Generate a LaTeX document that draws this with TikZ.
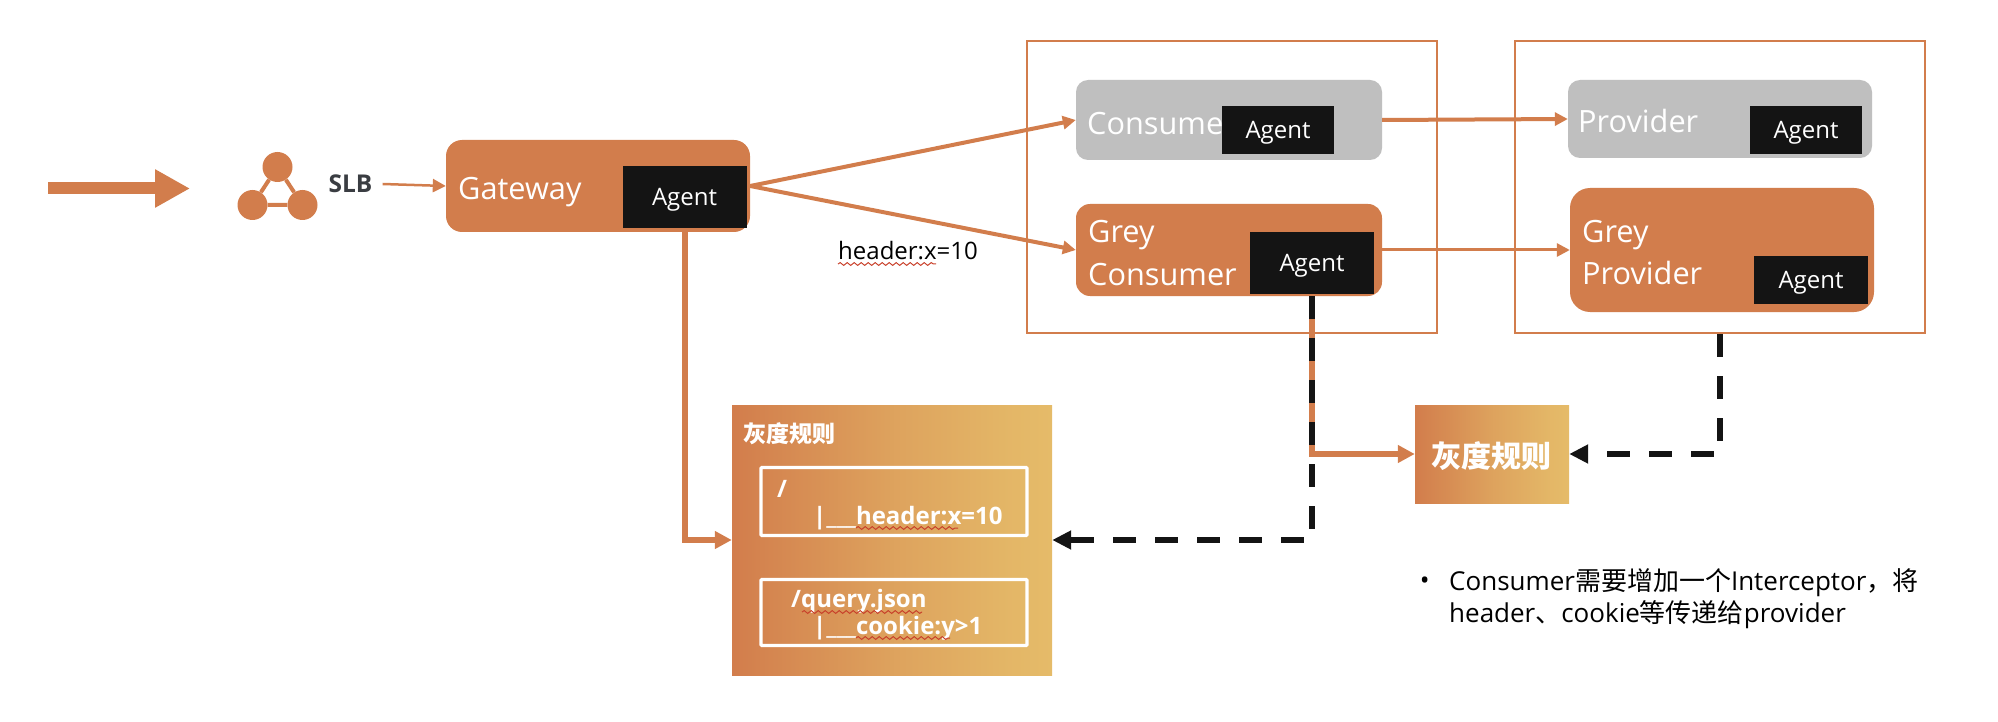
\documentclass[tikz,border=0pt]{standalone}
\usepackage{fontspec}
\usetikzlibrary{arrows.meta,decorations.pathmorphing}
\setmainfont{Open Sans}
\newfontfamily\cjk{Noto Sans CJK SC}
\definecolor{brand}{HTML}{D27D4C}
\definecolor{brandlight}{HTML}{E5BB69}
\definecolor{mute}{HTML}{BFBFBF}
\definecolor{ink}{HTML}{141414}
\definecolor{slbgrey}{HTML}{3A3D42}
\definecolor{squiggle}{HTML}{C8402A}
\newcommand{\fs}[1]{\fontsize{#1}{#1}\selectfont}
% warm ramp that settles into its light end before the right edge
\pgfdeclarehorizontalshading{warmramp}{100bp}{
  color(0bp)=(brand); color(25bp)=(brand); color(50bp)=(brand!40!brandlight);
  color(68bp)=(brandlight!92!brand); color(75bp)=(brandlight); color(100bp)=(brandlight)}
\tikzset{
  x=1pt, y=-1pt,
  rbox/.style={rounded corners=#1, inner sep=0pt, draw=none},
  orangebox/.style={rbox=#1, fill=brand},
  greybox/.style={rbox=#1, fill=mute},
  agentbox/.style={fill=ink, text=white, inner sep=0pt, font=\fs{24},
    text height=17pt, text depth=0pt},
  groupbox/.style={draw=brand, line width=2.2pt, inner sep=0pt, fill=white},
  lbl/.style={text=white, inner sep=0pt, font=\fs{30.7}, anchor=base west},
  rulebox/.style={shading=warmramp, inner sep=0pt},
  rowbox/.style={draw=white, line width=3.4pt, inner sep=0pt, rounded corners=1pt},
  ruletext/.style={text=white, inner sep=0pt, font=\bfseries\fs{24}, anchor=base west},
  plain/.style={text=black, inner sep=0pt, font=\fs{26}, anchor=base west},
  flow/.style={draw=brand, line width=#1},
  headS/.style={-{Triangle[length=13pt,width=13pt]}},
  headL/.style={-{Triangle[length=17pt,width=17pt]}},
  trace/.style={draw=ink, line width=6pt, dash pattern=on 23pt off 19pt,
    -{Triangle[length=19pt,width=18pt]}},
  wavy/.style={draw=squiggle, line width=1pt,
    decorate, decoration={snake, amplitude=1.4pt, segment length=7pt}},
}
\begin{document}
\begin{tikzpicture}
\useasboundingbox (0,0) rectangle (1998,722);

% incoming traffic
\coordinate (inA) at (48,188.5);
\coordinate (inB) at (190,188.5);
\draw[flow=12pt, -{Triangle[length=35pt,width=36pt]}] (inA) -- (inB);

% load balancer icon
\node[circle, fill=brand, minimum size=30pt, inner sep=0pt] (lbT) at (277.5,167) {};
\node[circle, fill=brand, minimum size=30pt, inner sep=0pt] (lbL) at (252.5,205) {};
\node[circle, fill=brand, minimum size=30pt, inner sep=0pt] (lbR) at (302.5,205) {};
\draw[flow=4pt] (lbT) -- (lbL) -- (lbR) -- (lbT);
\node[text=slbgrey, inner sep=0pt, font=\bfseries\fs{24.5}] (slb) at (350.5,184) {SLB};

% gateway
\node[orangebox=16pt, minimum width=304pt, minimum height=92pt] (gw) at (598,186) {};
\node[lbl] (gwT) at (458,199.5) {Gateway};
\node[agentbox, minimum width=124pt, minimum height=62pt] (gwA) at (684.5,197) {Agent};

% consumer group
\node[groupbox, minimum width=410pt, minimum height=292pt] (cgroup) at (1232,187) {};
\node[greybox=12pt, minimum width=306pt, minimum height=80pt] (con) at (1229,120) {};
\node[lbl] (conT) at (1087,134.5) {Consumer};
\node[agentbox, minimum width=112pt, minimum height=48pt] (conA) at (1278,130) {Agent};
\node[orangebox=14pt, minimum width=306pt, minimum height=92pt] (gcon) at (1229,250) {};
\node[lbl] (gconT) at (1088,242.5) {Grey};
\node[lbl] (gconU) at (1088,285.5) {Consumer};
\node[agentbox, minimum width=124pt, minimum height=62pt] (gconA) at (1312,263) {Agent};

% provider group
\node[groupbox, minimum width=410pt, minimum height=292pt] (pgroup) at (1720,187) {};
\node[greybox=12pt, minimum width=304pt, minimum height=78pt] (prov) at (1720,119) {};
\node[lbl] (provT) at (1578,132.5) {Provider};
\node[agentbox, minimum width=112pt, minimum height=48pt] (provA) at (1806,130) {Agent};
\node[orangebox=20pt, minimum width=304pt, minimum height=124pt] (gprov) at (1722,250) {};
\node[lbl] (gprovT) at (1582,242.5) {Grey};
\node[lbl] (gprovU) at (1582,284.5) {Provider};
\node[agentbox, minimum width=114pt, minimum height=48pt] (gprovA) at (1811,280) {Agent};

% rule panel
\node[rulebox, minimum width=320pt, minimum height=270pt] (rules) at (892,540) {};
\node[text=white, inner sep=0pt, font=\cjk\bfseries\fs{23}, anchor=west] (rulesT) at (743,434) {灰度规则};
\node[rowbox, minimum width=266pt, minimum height=68pt] (rowA) at (894,501.5) {};
\node[rowbox, minimum width=266pt, minimum height=66pt] (rowB) at (894,612.5) {};
\node[ruletext] (rowAa) at (777,497) {/};
\node[ruletext] (rowAb) at (813,524) {|\_\_\_header:x=10};
\node[ruletext] (rowBa) at (791,607) {/query.json};
\node[ruletext] (rowBb) at (813,634) {|\_\_\_cookie:y>1};
\draw[wavy] (856,528) -- (958,528);
\draw[wavy] (802,612) -- (922,612);
\draw[wavy] (856,638) -- (950,638);

% rule tag
\node[rulebox, minimum width=154pt, minimum height=98pt] (tag) at (1492,454) {};
\node[text=white, inner sep=0pt, font=\cjk\bfseries\fs{30}] (tagT) at (1491,456) {灰度规则};

% request flows
\draw[flow=2.5pt, headS] ([xshift=10pt]slb.east) -- (gw.west);
\draw[flow=4pt, headS] (gw.east) -- (con.west);
\draw[flow=4pt, headS] (gw.east) -- (gcon.west);
\draw[flow=4pt, headS] (con.east) -- (prov.west);
\draw[flow=3pt, headS] (gcon.east) -- (gprov.west);
\draw[flow=6pt, headL] (gwA.south) |- (rules.west);
\draw[flow=6pt, headL] (gconA.south) |- (tag.west);

% rule lookups
\draw[trace, dash phase=40pt] (gconA.south) |- (rules.east);
\draw[trace] (pgroup.south) |- (tag.east);

% flow label
\node[plain, font=\fs{24}] (hdr) at (838,260) {header:x=10};
\draw[wavy] (838,264) -- (936,264);

% note
\node[plain, anchor=center] (dot) at (1424.7,583) {•};
\node[plain] (noteA) at (1449,590) {Consumer{\cjk 需要增加一个}Interceptor{\cjk ，将}};
\node[plain] (noteB) at (1449,622) {header{\cjk 、}cookie{\cjk 等传递给}provider};
\end{tikzpicture}
\end{document}
